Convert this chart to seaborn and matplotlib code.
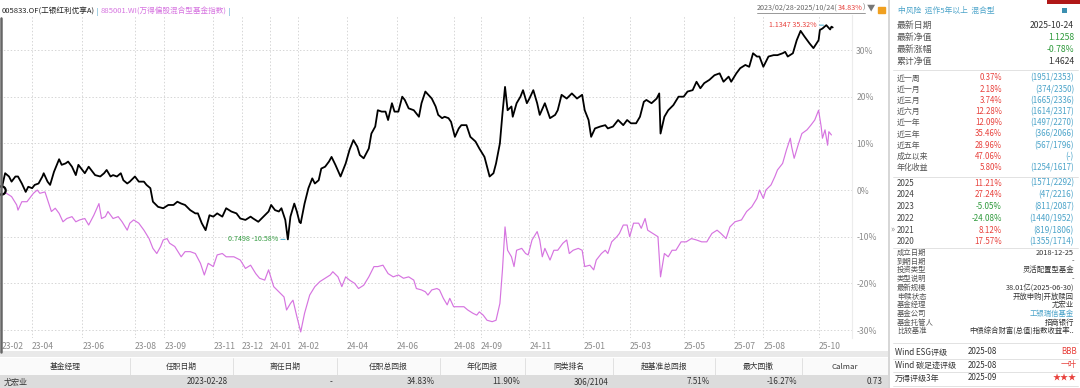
import numpy as np
import pandas as pd
import matplotlib
matplotlib.use('Agg')
import matplotlib.pyplot as plt
from matplotlib.patches import Rectangle
import seaborn as sns

sns.set_style('white')
plt.rcParams['font.family'] = ['Noto Sans CJK SC', 'DejaVu Sans']
plt.rcParams['axes.unicode_minus'] = False

# ---- 区间收益 (交易日序号, %) ----
fund_day = [0, 3, 6, 8, 11, 13, 16, 19, 21, 24, 26, 29, 32, 33, 36, 38, 41, 45, 47, 50,
            52, 55, 58, 60, 63, 65, 68, 71, 73, 77, 80, 82, 85, 87, 90, 93, 95, 98, 100, 104,
            107, 111, 113, 116, 118, 122, 126, 130, 134, 137, 140, 143, 147, 151, 153, 156, 159, 162, 165, 168,
            172, 175, 179, 183, 186, 190, 194, 196, 200, 204, 208, 210, 213, 216, 218, 221, 223, 225, 228, 230,
            232, 233, 236, 239, 242, 244, 247, 249, 252, 255, 257, 260, 264, 268, 271, 274, 277, 279, 282, 286,
            288, 291, 293, 296, 299, 301, 304, 306, 309, 312, 314, 317, 321, 325, 327,
            330, 335, 338, 340, 343, 345, 348, 350, 353, 356, 358, 362, 365, 369, 372, 376, 378, 380, 383, 385,
            388, 390, 392, 394, 397, 398, 401, 404, 406, 409, 411, 414, 417, 419, 423, 427, 431, 433, 436, 440,
            444, 448, 452, 454, 457, 459, 462, 466, 470, 472, 476, 480, 484, 487, 490, 494, 497, 500, 502, 506,
            510, 512, 513, 516, 519, 523, 527, 531, 534, 538, 541, 544, 547, 551, 555, 559, 562, 566, 568, 572,
            575, 579, 582, 585, 588, 590, 593, 597, 601, 604, 608, 610, 612, 616, 619, 622, 625, 629, 632, 636,
            637, 639, 642, 645, 646, 647]
fund_pct = [0.0, 3.6, 2.9, 1.8, 2.9, 2.9, 1.4, -0.4, 0.7, 0.4, 1.1, 1.4, 2.9, 3.6, 1.8, 1.1, 3.9, 6.6, 5.4, 5.7,
            6.1, 5.0, 3.2, 5.4, 4.3, 3.6, 5.0, 3.9, 3.2, 2.9, 3.6, 4.3, 2.9, 3.2, 2.9, 3.6, 2.1, 1.4, 1.8, 2.9,
            1.8, 1.8, 1.1, 0.4, -2.5, -3.6, -3.9, -3.2, -3.2, -2.5, -2.9, -3.2, -4.3, -5.0, -5.0, -7.1, -8.6, -5.4, -5.7, -5.0,
            -5.7, -3.9, -4.6, -5.0, -6.1, -6.4, -5.7, -6.1, -6.8, -5.7, -4.6, -3.2, -4.3, -4.6, -3.9, -6.4, -10.58, -5.7, -2.9, -4.6,
            -6.8, -7.1, -2.9, 0.4, 2.5, 1.4, 2.1, 4.6, 5.0, 6.1, 7.1, 5.4, 2.9, 5.7, 8.6, 10.7, 9.3, 7.5, 6.8, 8.9,
            12.1, 13.6, 17.1, 16.8, 16.8, 15.0, 18.6, 16.8, 16.8, 20.0, 19.3, 17.5, 17.1, 15.7, 18.6,
            21.1, 19.6, 17.9, 16.1, 15.4, 15.7, 15.4, 14.6, 11.4, 13.2, 13.9, 13.9, 11.4, 10.4, 8.9, 7.1, 5.0, 2.9, 3.6, 5.7,
            10.0, 16.4, 22.1, 17.1, 17.9, 15.7, 18.6, 20.0, 21.4, 18.6, 19.6, 21.4, 18.6, 16.1, 18.6, 15.4, 16.1, 17.1, 20.4, 19.6,
            20.7, 19.6, 20.4, 17.1, 15.0, 11.4, 13.2, 13.6, 13.9, 13.2, 13.6, 15.0, 13.9, 15.0, 14.3, 14.3, 15.7, 18.9, 19.3, 18.6,
            19.6, 20.7, 12.1, 15.7, 17.1, 18.2, 20.0, 20.0, 21.1, 21.4, 23.2, 21.8, 22.9, 23.6, 24.6, 25.0, 23.2, 24.3, 23.2, 25.0,
            26.1, 26.8, 26.4, 29.3, 28.6, 28.6, 26.4, 28.6, 28.9, 28.9, 29.3, 29.6, 28.6, 29.3, 32.1, 34.1, 32.9, 31.4, 30.4, 32.1,
            34.3, 34.6, 35.32, 34.4, 35.0, 34.83]

bench_day = [0, 4, 8, 12, 13, 16, 20, 23, 25, 28, 30, 34, 37, 39, 42, 45, 48, 51, 55, 58,
             61, 65, 68, 72, 76, 78, 81, 83, 87, 91, 94, 98, 100, 103, 107, 111, 115, 118, 121, 124,
             126, 129, 131, 135, 140, 143, 147, 151, 155, 158, 161, 165, 168, 172, 175, 181, 186, 190, 194, 198,
             201, 205, 208, 212, 216, 220, 222, 225, 227, 230, 233, 236, 240, 244, 248, 252, 256, 258, 262, 265,
             268, 271, 275, 278, 282, 286, 290, 293, 297, 301, 305, 309, 313, 317, 321, 323, 327,
             330, 332, 335, 339, 341, 344, 347, 349, 352, 356, 360, 363, 367, 370, 372, 375, 378, 382, 385, 388,
             390, 392, 394, 397, 399, 401, 405, 408, 410, 413, 417, 419, 421, 423, 427, 430, 433, 437, 440, 442,
             445, 449, 452, 454, 458, 461, 463, 467, 470, 472, 475, 479, 481, 484, 487, 489, 492, 496, 498, 501,
             503, 507, 511, 513, 516, 519, 522, 525, 529, 533, 537, 541, 545, 549, 553, 557, 560, 564, 567, 571,
             576, 580, 584, 588, 590, 593, 595, 599, 602, 604, 608, 611, 614, 615, 617, 620, 623, 627, 630, 633,
             636, 638, 639, 641, 643, 644, 646]
bench_pct = [0.0, -0.7, -1.4, -3.2, -4.3, -2.5, -2.5, -1.4, -0.7, 0.0, -0.7, -0.4, -2.9, -4.6, -3.9, -5.0, -6.8, -6.1, -5.7, -6.8,
             -6.4, -6.1, -7.5, -5.4, -2.9, -6.1, -5.7, -4.6, -6.1, -5.7, -6.8, -8.6, -7.1, -6.4, -7.1, -8.6, -10.4, -12.5, -13.6, -12.1,
             -10.7, -10.4, -11.4, -12.1, -14.3, -13.2, -13.2, -13.6, -15.7, -18.2, -15.7, -16.4, -13.9, -13.6, -14.3, -14.3, -15.0, -16.8, -16.1, -17.9,
             -18.9, -19.3, -17.1, -20.7, -21.8, -22.9, -25.7, -24.3, -23.6, -27.1, -30.4, -26.4, -22.5, -20.7, -19.6, -18.9, -18.2, -17.5, -18.6, -20.7,
             -18.6, -19.3, -20.0, -21.1, -20.4, -18.6, -16.4, -16.4, -16.1, -17.9, -18.6, -18.2, -18.9, -18.6, -19.3, -21.1, -21.4,
             -21.8, -22.5, -21.4, -21.1, -21.4, -23.2, -24.6, -23.2, -25.0, -25.0, -25.0, -25.7, -26.4, -26.8, -26.1, -26.8, -27.9, -28.2, -27.9, -24.3,
             -17.1, -7.9, -12.9, -14.3, -16.4, -12.9, -12.5, -13.6, -13.9, -10.7, -8.9, -10.7, -14.3, -12.5, -15.0, -12.9, -12.9, -11.4, -10.7, -13.6,
             -12.9, -12.5, -12.9, -16.4, -16.1, -17.1, -15.0, -13.6, -12.9, -13.6, -11.1, -10.0, -9.3, -7.5, -7.5, -10.0, -7.1, -7.1, -8.2, -6.1,
             -8.6, -9.3, -10.0, -18.6, -13.6, -14.3, -12.9, -12.9, -11.1, -11.1, -10.4, -10.7, -11.1, -11.1, -9.3, -8.6, -9.3, -10.4, -7.9, -6.8,
             -6.4, -4.6, -3.6, -1.8, 0.0, -1.8, 0.0, 1.1, 2.9, 4.3, 5.7, 8.6, 11.1, 9.3, 6.8, 9.6, 12.1, 12.9, 13.9, 15.0,
             17.1, 13.6, 11.1, 12.9, 9.6, 12.5, 11.8]

start_nav = 0.8385
tick_day = [0, 24, 63, 104, 127, 165, 187, 209, 231, 269, 308, 352, 373, 411, 453, 489, 531, 570, 593, 636]
tick_lab = ['23-02', '23-04', '23-06', '23-08', '23-09', '23-11', '23-12', '24-01', '24-02', '24-04',
            '24-06', '24-08', '24-09', '24-11', '25-01', '25-03', '25-05', '25-07', '25-08', '25-10']
y_ticks = [-30, -20, -10, 0, 10, 20, 30]

# ---- 表格 ----
tbl_cols = ['基金经理', '任职日期', '离任日期', '任职总回报', '年化回报', '同类排名', '超基准总回报', '最大回撤', 'Calmar']
tbl_row = ['尤宏业', '2023-02-28', '-', '34.83%', '11.90%', '306/2104', '7.51%', '-16.27%', '0.73']
col_edges = [0, 130, 233, 337, 440, 525, 613, 715, 802, 888]

info_top = [('最新日期', '2025-10-24'), ('最新净值', '1.1258'), ('最新涨幅', '-0.78%'), ('累计净值', '1.4624')]
perf_lab = ['近一周', '近一月', '近三月', '近六月', '近一年', '近三年', '近五年', '成立以来', '年化收益']
perf_val = ['0.37%', '2.18%', '3.74%', '12.28%', '12.09%', '35.46%', '28.96%', '47.06%', '5.80%']
perf_rank = ['(1951/2353)', '(374/2350)', '(1665/2336)', '(1614/2317)', '(1497/2270)',
             '(366/2066)', '(567/1796)', '(-)', '(1254/1617)']
year_lab = ['2025', '2024', '2023', '2022', '2021', '2020']
year_val = ['11.21%', '27.24%', '-5.05%', '-24.08%', '8.12%', '17.57%']
year_rank = ['(1571/2292)', '(47/2216)', '(811/2087)', '(1440/1952)', '(819/1806)', '(1355/1714)']
profile = [('成立日期', '2018-12-25'), ('到期日期', '-'), ('投资类型', '灵活配置型基金'), ('类型说明', '-'),
           ('最新规模', '38.01亿(2025-06-30)'), ('申赎状态', '开放申购|开放赎回'), ('基金经理', '尤宏业'),
           ('基金公司', '工银瑞信基金'), ('基金托管人', '招商银行'), ('比较基准', '中债综合财富(总值)指数收益率..')]
ratings = [('Wind ESG评级', '2025-08', 'BBB'), ('Wind 碳足迹评级', '2025-08', '一叶'), ('万得评级3年', '2025-09', '★★★')]

RED = '#e8413c'
GREEN = '#2f9a3c'
TEAL = '#4aa3c9'
PURPLE = '#d674e0'
CYAN = '#5bb8d8'
GRAY = '#8c8c8c'
LBL = '#555555'

W, H = 1080, 388
fig = plt.figure(figsize=(W / 100, H / 100), dpi=100)
ax = fig.add_axes([0 / W, 1 - 338 / H, 852 / W, (338 - 15) / H])

fund_df = pd.DataFrame({'day': fund_day, 'pct': fund_pct})
bench_df = pd.DataFrame({'day': bench_day, 'pct': bench_pct})
sns.lineplot(data=bench_df, x='day', y='pct', color=PURPLE, lw=0.85, ax=ax, estimator=None, sort=False)
sns.lineplot(data=fund_df, x='day', y='pct', color='black', lw=1.3, ax=ax, estimator=None, sort=False)
ax.plot(fund_day[0], fund_pct[0], 'o', ms=6, mfc='white', mec='black', mew=1.6, zorder=5)

ax.set_xlim(-1, 662)
ax.set_ylim(-31.7, 37.5)
ax.set_xticks(tick_day, tick_lab)
ax.set_yticks(y_ticks, [f'{v}%' for v in y_ticks])
ax.yaxis.tick_right()
ax.tick_params(length=0, labelsize=6.2, labelcolor=GRAY)
ax.tick_params(axis='x', pad=3)
ax.tick_params(axis='y', pad=3)
for lab in ax.get_xticklabels():
    lab.set_ha('left')
ax.grid(True, color='#d6d6d6', lw=0.7, ls=(0, (1.5, 2)))
ax.set_xlabel('')
ax.set_ylabel('')
for s in ['top', 'bottom', 'left']:
    ax.spines[s].set_visible(False)
ax.spines['right'].set_color('#ececec')
ax.spines['right'].set_linewidth(0.8)

# 最高 / 最低 标注
imax = int(np.argmax(fund_pct))
imin = int(np.argmin(fund_pct))
for i, col in [(imax, RED), (imin, GREEN)]:
    nav = start_nav * (1 + fund_pct[i] / 100)
    ax.annotate('', xy=(fund_day[i], fund_pct[i]), xytext=(-7, 0), textcoords='offset points',
                arrowprops=dict(arrowstyle='-', color=CYAN, lw=0.8))
    ax.annotate(f'{nav:.4f} {fund_pct[i]:.2f}%', xy=(fund_day[i], fund_pct[i]), xytext=(-7, 0),
                textcoords='offset points', ha='right', va='center', color=col, fontsize=5.1)

# ---- 像素坐标覆盖层 ----
ov = fig.add_axes([0, 0, 1, 1], zorder=3)
ov.set_xlim(0, W)
ov.set_ylim(H, 0)
ov.axis('off')
ov.patch.set_alpha(0)
r = fig.canvas.get_renderer()


def put_parts(x, y, parts, size=6.8):
    for s, c in parts:
        t = ov.text(x, y, s, color=c, va='center', ha='left', fontsize=size)
        x += t.get_window_extent(renderer=r).width
    return x


put_parts(2, 12, [('005833.OF(工银红利优享A)', '#222222'), (' | ', TEAL),
                  ('885001.WI(万得偏股混合型基金指数)', PURPLE), (' |', TEAL)], size=5.5)
x_end = put_parts(757, 8, [('2023/02/28-2025/10/24(', '#666666'), ('34.83%', RED), (')', '#666666')], size=5.2)
ov.plot([757, x_end], [12.5, 12.5], color='#888888', lw=0.6)
ov.text(867, 8, '▼', color='#777777', fontsize=6, va='center', ha='left')
ov.add_patch(Rectangle((878, 7), 7, 6, color='#f0a020'))
ov.plot([0.8, 0.8], [18, 352], color='#666666', lw=1.8)

# 底部表格
ov.add_patch(Rectangle((0, 351), 888, 6, color='#e9e9e9', lw=0))
ov.add_patch(Rectangle((0, 358), 888, 17, color='#fafafa', lw=0))
ov.add_patch(Rectangle((0, 375), 888, 13, color='#dcdcdc', lw=0))
for k, name in enumerate(tbl_cols):
    x0, x1 = col_edges[k], col_edges[k + 1]
    ov.text((x0 + x1) / 2, 367, name, ha='center', va='center', fontsize=5.6, color='#333333')
    if k > 0:
        ov.plot([x0, x0], [358, 375], color='#dddddd', lw=0.6)
    if k == 0:
        ov.text(x0 + 4, 382, tbl_row[k], ha='left', va='center', fontsize=5.8, color='#333333')
    else:
        ov.text(x1 - 5, 382, tbl_row[k], ha='right', va='center', fontsize=5.8, color='#333333')

# 右侧面板
ov.plot([889, 889], [0, H], color='#d0d0d0', lw=1.2)
ov.add_patch(Rectangle((1047, 0), 33, 4, color='#b01818', lw=0))
ov.text(898, 11, '中风险  运作5年以上  混合型', color=TEAL, fontsize=5.6, va='center')
ov.add_patch(Rectangle((1062, 8), 5, 5, color='#3b8fb0', lw=0))
LX, RX, MX = 897, 1074, 1002
for k, (lab, val) in enumerate(info_top):
    y = 25 + k * 12.3
    ov.text(LX, y, lab, color=LBL, fontsize=6.4, va='center')
    col = GREEN if k in (1, 2) else '#333333'
    ov.text(RX, y, val, color=col, fontsize=6.2, va='center', ha='right')
for yy in [70, 177, 248, 343, 359, 372, 386]:
    ov.plot([893, 1078], [yy, yy], color='#dddddd', lw=0.6)
for k in range(len(perf_lab)):
    y = 78 + k * 11.2
    ov.text(LX, y, perf_lab[k], color=LBL, fontsize=5.7, va='center')
    col = GREEN if perf_val[k].startswith('-') else RED
    ov.text(MX, y, perf_val[k], color=col, fontsize=5.7, va='center', ha='right')
    ov.text(RX, y, perf_rank[k], color=TEAL, fontsize=5.7, va='center', ha='right')
for k in range(len(year_lab)):
    y = 183 + k * 11.8
    ov.text(LX, y, year_lab[k], color='#444444', fontsize=5.8, va='center')
    col = GREEN if year_val[k].startswith('-') else RED
    ov.text(MX, y, year_val[k], color=col, fontsize=5.8, va='center', ha='right')
    ov.text(RX, y, year_rank[k], color=TEAL, fontsize=5.8, va='center', ha='right')
ov.text(890, 229, '»', color='#888888', fontsize=6, va='center')
for k, (lab, val) in enumerate(profile):
    y = 253 + k * 8.7
    ov.text(LX, y, lab, color=LBL, fontsize=5.3, va='center')
    col = TEAL if lab == '基金公司' else '#333333'
    ov.text(RX, y, val, color=col, fontsize=5.3, va='center', ha='right')
for k, (lab, d, val) in enumerate(ratings):
    y = 352 + k * 13
    ov.text(895, y, lab, color='#333333', fontsize=5.8, va='center')
    ov.text(968, y, d, color='#333333', fontsize=5.8, va='center')
    ov.text(RX + 3, y, val, color=RED, fontsize=5.8, va='center', ha='right')

fig.savefig('out.png', dpi=100)
